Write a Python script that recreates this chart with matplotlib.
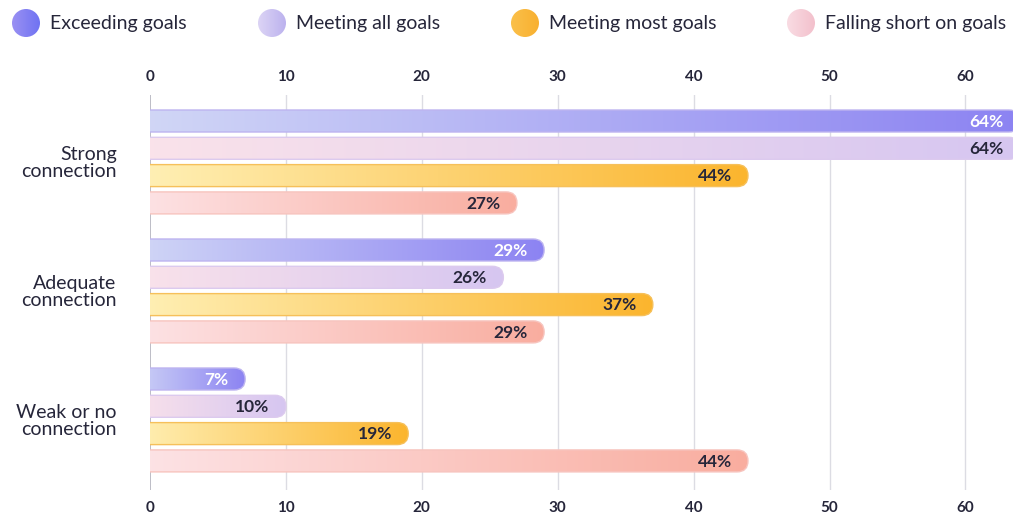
import numpy as np
import matplotlib.pyplot as plt
from matplotlib.colors import to_rgb
from matplotlib.patches import FancyBboxPatch, Circle

# data
groups = ["Strong\nconnection", "Adequate\nconnection", "Weak or no\nconnection"]
series = ["Exceeding goals", "Meeting all goals", "Meeting most goals", "Falling short on goals"]
exceeding = [64, 29, 7]
meeting_all = [64, 26, 10]
meeting_most = [44, 37, 19]
falling_short = [27, 29, 44]
values = [exceeding, meeting_all, meeting_most, falling_short]

# gradient (left colour, right colour), border, label colour
grad = [("#d2d8f6", "#8c83f2"), ("#fbe3ea", "#d6c6f1"),
        ("#fff1b8", "#fbb52e"), ("#fde4e7", "#f9ad9f")]
edges = ["#bdb4f0", "#dccaee", "#f6c05a", "#f7c4be"]
label_cols = ["white", "#26263a", "#26263a", "#26263a"]
legend_cols = [("#9a90f3", "#6e72f2"), ("#dcd4f5", "#bcb2ee"),
               ("#fbc04a", "#f8b030"), ("#f9dce3", "#f3c0cc")]

W, H = 1013, 517
fig = plt.figure(figsize=(W / 100, H / 100), dpi=100)
plt.rcParams['font.family'] = ['Lato', 'DejaVu Sans']
dark = "#26263a"

ax_l, ax_r, ax_t, ax_b = 150, 1013, 95, 490
ax = fig.add_axes([ax_l / W, 1 - ax_b / H, (ax_r - ax_l) / W, (ax_b - ax_t) / H])

xmax = 63.5
row = 27.3            # px per y unit
y0 = (121 - ax_t) / row
gstep = 129 / row
ymin, ymax = -y0, (ax_b - ax_t) / row - y0
ax.set_xlim(0, xmax)
ax.set_ylim(ymax, ymin)

px_x = (ax_r - ax_l) / xmax   # px per x unit
bar_h = 22 / row
r = 11 / px_x
aspect = (1 / row) / (1 / px_x)

# grid
for t in range(0, 70, 10):
    ax.axvline(t, color="#b8b8c2" if t == 0 else "#dcdce3", lw=1.3 if t == 0 else 1.0, zorder=0)

for i, vals in enumerate(values):
    c0, c1 = np.array(to_rgb(grad[i][0])), np.array(to_rgb(grad[i][1]))
    for g, v in enumerate(vals):
        yc = g * gstep + i
        img = np.linspace(0, 1, 256)[None, :, None] * (c1 - c0) + c0
        im = ax.imshow(img, extent=[-2 * r, v, yc + bar_h / 2, yc - bar_h / 2],
                       aspect='auto', zorder=2, interpolation='bilinear')
        patch = FancyBboxPatch((-2 * r, yc - bar_h / 2), v + 2 * r, bar_h,
                               boxstyle=f"round,pad=0,rounding_size={r}",
                               mutation_aspect=aspect, facecolor='none',
                               edgecolor=edges[i], lw=1.0, zorder=3)
        ax.add_patch(patch)
        im.set_clip_path(patch)
        ax.text(v - 1.2, yc + 0.03, f"{v}%", ha='right', va='center', fontsize=12.5,
                fontweight='bold', color=label_cols[i], zorder=4)

ax.set_xticks(range(0, 70, 10))
ax.tick_params(axis='x', which='both', top=True, labeltop=True, bottom=True,
               labelbottom=True, length=0, labelsize=11, labelcolor=dark, pad=8)
for lab in ax.get_xticklabels(which='both'):
    lab.set_fontweight('bold')
ax.set_yticks([g * gstep + 1.5 for g in range(3)])
ax.set_yticklabels(groups, fontsize=14, color=dark, linespacing=1.0)
ax.tick_params(axis='y', length=0, pad=24)
for s in ax.spines.values():
    s.set_visible(False)

# legend
leg_x = [26, 272, 525, 801]
for i, name in enumerate(series):
    cx, cy = leg_x[i] / W, 1 - 23 / H
    c0, c1 = np.array(to_rgb(legend_cols[i][0])), np.array(to_rgb(legend_cols[i][1]))
    lax = fig.add_axes([cx - 14 / W, cy - 14 / H, 28 / W, 28 / H])
    lax.axis('off')
    img = np.linspace(0, 1, 64)[None, :, None] * (c1 - c0) + c0
    im = lax.imshow(img, extent=[0, 1, 0, 1], aspect='auto')
    circ = Circle((0.5, 0.5), 0.5, transform=lax.transData, facecolor='none', edgecolor='none')
    lax.add_patch(circ)
    im.set_clip_path(circ)
    fig.text((leg_x[i] + 24) / W, cy, name, ha='left', va='center', fontsize=14, color=dark)

fig.savefig("out.png", dpi=100)
